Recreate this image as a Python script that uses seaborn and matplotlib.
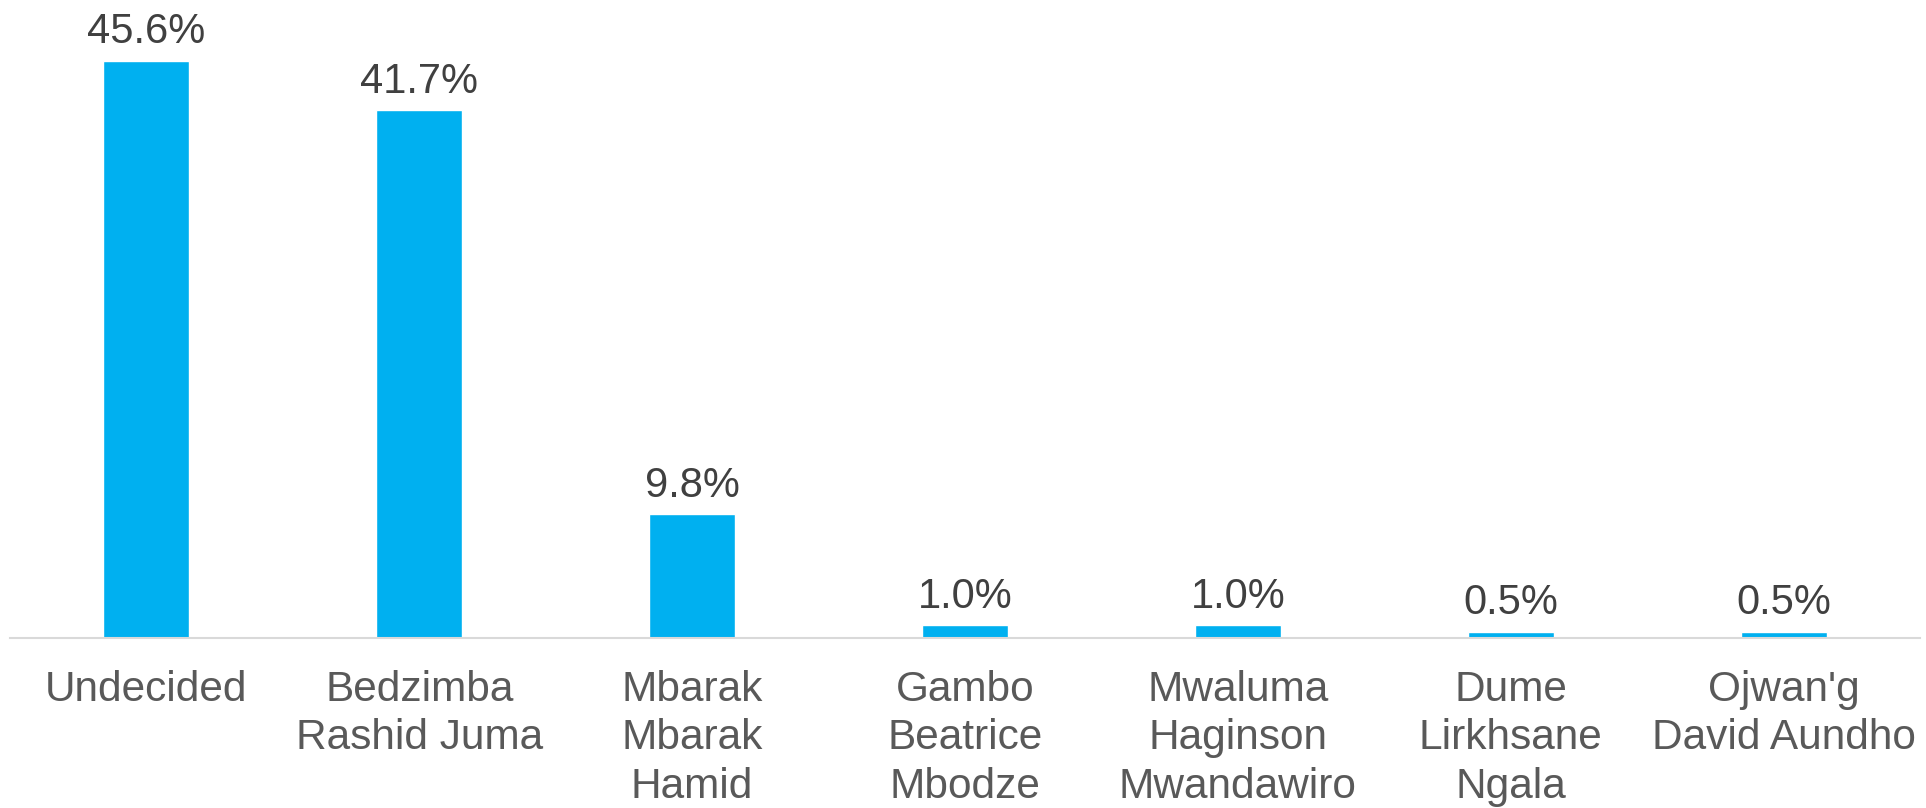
import pandas as pd
import seaborn as sns
import matplotlib.pyplot as plt

# Data
candidates = ["Undecided", "Bedzimba\nRashid Juma", "Mbarak\nMbarak\nHamid",
              "Gambo\nBeatrice\nMbodze", "Mwaluma\nHaginson\nMwandawiro",
              "Dume\nLirkhsane\nNgala", "Ojwan'g\nDavid Aundho"]
shares = [45.6, 41.7, 9.8, 1.0, 1.0, 0.5, 0.5]

df = pd.DataFrame({"Candidate": candidates, "Share": shares})

sns.set_theme(style="white")
plt.rcParams["font.family"] = ["Liberation Sans", "DejaVu Sans"]

fig = plt.figure(figsize=(19.26, 8.08), dpi=100)
ax = fig.add_axes([10 / 1926, (808 - 638) / 808, 1910 / 1926, 638 / 808])

sns.barplot(data=df, x="Candidate", y="Share", color="#00B0F0",
            width=0.315, saturation=1, ax=ax)

ax.set_xlim(-0.5, len(candidates) - 0.5)
ax.set_ylim(0, 50.4)

# Value labels
ax.bar_label(ax.containers[0], labels=[f"{v:.1f}%" for v in shares],
             padding=6, fontsize=30, color="#404040")

# Axes styling
for side in ["top", "right", "left"]:
    ax.spines[side].set_visible(False)
ax.spines["bottom"].set_color("#D9D9D9")
ax.spines["bottom"].set_linewidth(1.5)
ax.set_yticks([])
ax.set_xlabel("")
ax.set_ylabel("")
ax.tick_params(axis="x", length=0, pad=23, labelsize=30.5, labelcolor="#595959")
for lbl in ax.get_xticklabels():
    lbl.set_linespacing(1.27)

fig.savefig("out.png", dpi=100)
